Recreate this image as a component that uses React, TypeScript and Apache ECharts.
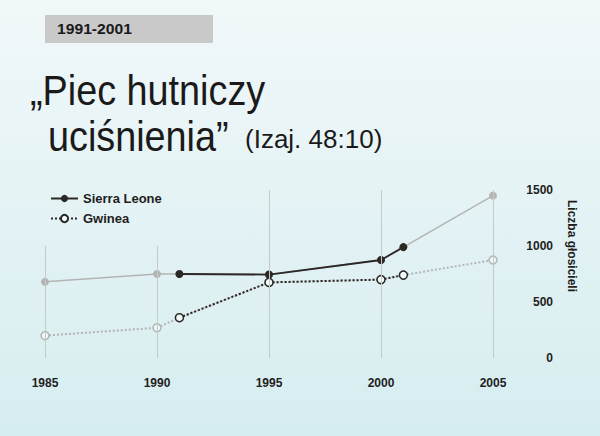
import React, { useEffect, useRef } from "react";
import * as echarts from "echarts";

// Number of publishers per year
const years = [1985, 1990, 1991, 1995, 2000, 2001, 2005];
const sierraLeone = [680, 750, 750, 745, 875, 990, 1450];
const gwinea = [200, 270, 360, 675, 700, 740, 875];

// Highlighted period
const periodStart = 1991;
const periodEnd = 2001;

// Vertical guide lines: year and the value they rise to
const guideYears = [1985, 1990, 1995, 2000, 2005];
const guideTops = [1000, 1000, 1500, 1500, 1500];

const yTicks = [0, 500, 1000, 1500];
const xTicks = [1985, 1990, 1995, 2000, 2005];

const DARK = "#2b2826";
const GREY = "#b4b4b4";
const FONT = "'Liberation Sans', Arial, sans-serif";

const toPairs = (vals: number[]) => years.map((y, i) => [y, vals[i]]);
const inPeriod = (vals: number[]) =>
  years
    .map((y, i) => [y, vals[i]])
    .filter(([y]) => y >= periodStart && y <= periodEnd);

export default function App() {
  const ref = useRef<HTMLDivElement>(null);

  useEffect(() => {
    if (!ref.current) return;
    const chart = echarts.init(ref.current, null, { renderer: "svg" });

    const option: any = {
      animation: false,
      backgroundColor: {
        type: "linear",
        x: 0,
        y: 0,
        x2: 0,
        y2: 1,
        colorStops: [
          { offset: 0, color: "#f1f8fa" },
          { offset: 1, color: "#d6edef" },
        ],
      },
      grid: { left: 45, right: 107, top: 190, bottom: 78, containLabel: false },
      xAxis: {
        type: "value",
        min: xTicks[0],
        max: xTicks[xTicks.length - 1],
        interval: 5,
        axisLine: { show: false },
        axisTick: { show: false },
        splitLine: { show: false },
        axisLabel: {
          margin: 19,
          color: "#1e1e1e",
          fontFamily: FONT,
          fontWeight: "bold",
          fontSize: 12,
          formatter: (v: number) => String(v),
        },
      },
      yAxis: {
        type: "value",
        position: "right",
        min: yTicks[0],
        max: yTicks[yTicks.length - 1],
        interval: 500,
        axisLine: { show: false },
        axisTick: { show: false },
        splitLine: { show: false },
        axisLabel: {
          align: "right",
          margin: 60,
          color: "#1e1e1e",
          fontFamily: FONT,
          fontWeight: "bold",
          fontSize: 12,
          formatter: (v: number) => String(v),
        },
      },
      legend: {
        orient: "vertical",
        left: 45,
        top: 187,
        itemWidth: 27,
        itemHeight: 9,
        itemGap: 7,
        data: ["Sierra Leone", "Gwinea"],
        textStyle: {
          color: "#1e1e1e",
          fontFamily: FONT,
          fontWeight: "bold",
          fontSize: 13,
        },
      },
      graphic: [
        {
          type: "rect",
          shape: { x: 45, y: 15, width: 168, height: 28 },
          style: { fill: "#c9c9c9" },
        },
        {
          type: "text",
          x: 57,
          y: 29,
          scaleX: 1.12,
          style: {
            text: "1991-2001",
            font: `bold 14px ${FONT}`,
            fill: "#1a1a1a",
            verticalAlign: "middle",
          },
        },
        {
          type: "text",
          x: 30,
          y: 90,
          scaleX: 0.9,
          style: {
            text: "\u201EPiec hutniczy",
            font: `42px ${FONT}`,
            fill: "#1a1a1a",
            verticalAlign: "middle",
          },
        },
        {
          type: "text",
          x: 48,
          y: 136,
          scaleX: 0.9,
          style: {
            text: "uci\u015Bnienia\u201D",
            font: `42px ${FONT}`,
            fill: "#1a1a1a",
            verticalAlign: "middle",
          },
        },
        {
          type: "text",
          x: 245,
          y: 139,
          style: {
            text: "(Izaj. 48:10)",
            font: `26px ${FONT}`,
            fill: "#1a1a1a",
            verticalAlign: "middle",
          },
        },
        {
          type: "text",
          x: 572,
          y: 246,
          rotation: -Math.PI / 2,
          style: {
            text: "Liczba g\u0142osicieli",
            font: `bold 12px ${FONT}`,
            fill: "#1e1e1e",
            align: "center",
            verticalAlign: "middle",
          },
        },
      ],
      series: [
        {
          name: "guides",
          type: "line",
          data: [],
          z: 1,
          silent: true,
          markLine: {
            silent: true,
            symbol: "none",
            label: { show: false },
            lineStyle: { color: "#c6c9ca", width: 1, type: "solid" },
            data: guideYears.map((y, i) => [
              { coord: [y, 0] },
              { coord: [y, guideTops[i]] },
            ]),
          },
        },
        {
          name: "Sierra Leone – całość",
          type: "line",
          z: 2,
          data: toPairs(sierraLeone),
          symbol: "circle",
          symbolSize: 8,
          lineStyle: { color: GREY, width: 1.5 },
          itemStyle: { color: GREY },
        },
        {
          name: "Gwinea – całość",
          type: "line",
          z: 2,
          data: toPairs(gwinea),
          symbol: "circle",
          symbolSize: 8,
          lineStyle: { color: GREY, width: 2, type: [2, 2] },
          itemStyle: { color: "#eef6f7", borderColor: GREY, borderWidth: 1.5 },
        },
        {
          name: "Sierra Leone",
          type: "line",
          z: 3,
          data: inPeriod(sierraLeone),
          symbol: "circle",
          symbolSize: 8,
          lineStyle: { color: DARK, width: 1.8 },
          itemStyle: { color: DARK },
        },
        {
          name: "Gwinea",
          type: "line",
          z: 3,
          data: inPeriod(gwinea),
          symbol: "circle",
          symbolSize: 8,
          lineStyle: { color: DARK, width: 2, type: [2, 2] },
          itemStyle: { color: "#f4fafb", borderColor: DARK, borderWidth: 1.5 },
        },
      ],
    };

    chart.setOption(option);
    return () => chart.dispose();
  }, []);

  return (
    <div
      ref={ref}
      style={{ width: 600, height: 436, position: "absolute", left: 0, top: 0 }}
    />
  );
}
